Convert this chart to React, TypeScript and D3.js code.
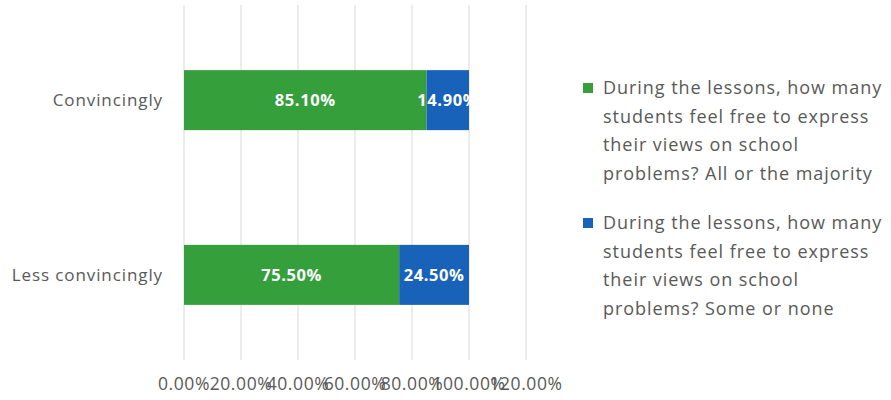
import React from "react";
import * as d3 from "d3";

const categories = ["Convincingly", "Less convincingly"];
const seriesNames = [
  "During the lessons, how many students feel free to express their views on school problems? All or the majority",
  "During the lessons, how many students feel free to express their views on school problems? Some or none",
];
const allOrMajority = [85.1, 75.5];
const someOrNone = [14.9, 24.5];
const tickValues = [0, 20, 40, 60, 80, 100, 120];
const legendLines = [
  ["During the lessons, how many", "students feel free to express", "their views on school", "problems? All or the majority"],
  ["During the lessons, how many", "students feel free to express", "their views on school", "problems? Some or none"],
];
const colors = ["#35a03b", "#1862b9"];

const W = 891;
const H = 400;
const FONT = "'Open Sans', sans-serif";

export default function App() {
  const x = d3.scaleLinear().domain([0, 120]).range([184, 526]);
  const y = d3.scaleBand().domain(categories).range([12.5, 362.5]).paddingInner(0.657).paddingOuter(0.33);
  const series = [allOrMajority, someOrNone];
  const bh = 60;

  return (
    <svg width={W} height={H} style={{ position: "absolute", left: 0, top: 0, background: "#fff" }}>
      <defs>
        <clipPath id="plotclip">
          <rect x={0} y={0} width={x(100) + 1} height={H} />
        </clipPath>
      </defs>
      {tickValues.map((t) => (
        <line key={t} x1={x(t)} x2={x(t)} y1={5} y2={360} stroke="#d9d9d9" strokeWidth={1} />
      ))}
      {categories.map((c, i) => {
        const cy = (y(c) as number) + y.bandwidth() / 2;
        let acc = 0;
        return (
          <g key={c}>
            {series.map((s, si) => {
              const x0 = x(acc);
              acc += s[i];
              const x1 = x(acc);
              return (
                <rect key={si} x={x0} y={cy - bh / 2} width={x1 - x0} height={bh} fill={colors[si]} />
              );
            })}
            {(() => {
              let a = 0;
              return series.map((s, si) => {
                const mid = x(a + s[i] / 2);
                a += s[i];
                return (
                  <text
                    key={"l" + si}
                    x={mid}
                    y={cy}
                    dy="0.35em"
                    textAnchor="middle"
                    fill="#fff"
                    fontWeight="bold"
                    fontSize={16.5}
                    letterSpacing={0.6}
                    fontFamily={FONT}
                    clipPath="url(#plotclip)"
                  >
                    {s[i].toFixed(2)}%
                  </text>
                );
              });
            })()}
            <text x={163} y={cy} dy="0.35em" textAnchor="end" fill="#595959" fontSize={17} letterSpacing={0.9} fontFamily={FONT}>
              {c}
            </text>
          </g>
        );
      })}
      {tickValues.map((t) => (
        <text key={"t" + t} x={x(t)} y={384} dy="0.35em" textAnchor="middle" fill="#595959" fontSize={17.5} letterSpacing={0.6} fontFamily={FONT}>
          {t.toFixed(2)}%
        </text>
      ))}
      {legendLines.map((lines, li) => {
        const top = li === 0 ? 88 : 223;
        return (
          <g key={"lg" + li}>
            <title>{seriesNames[li]}</title>
            <rect x={583} y={top - 5} width={10} height={10} fill={colors[li]} />
            {lines.map((ln, k) => (
              <text key={k} x={603} y={top + k * 28.5} dy="0.35em" fill="#595959" fontSize={18} letterSpacing={0.95} fontFamily={FONT}>
                {ln}
              </text>
            ))}
          </g>
        );
      })}
    </svg>
  );
}
